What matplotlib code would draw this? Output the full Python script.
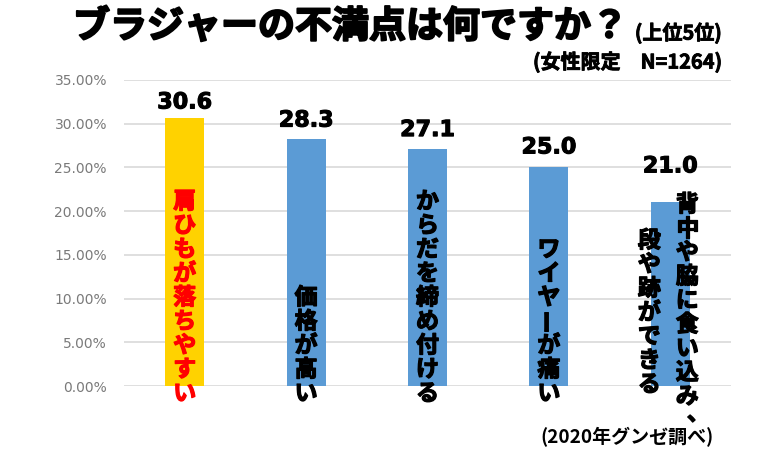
import matplotlib
matplotlib.use("Agg")
import matplotlib.pyplot as plt
import matplotlib.patheffects as pe
from matplotlib.ticker import FuncFormatter

# ---- data ----
categories = ["肩ひもが落ちやすい", "価格が高い", "からだを締め付ける", "ワイヤーが痛い",
              "背中や脇に食い込み、段や跡ができる"]
values = [30.6, 28.3, 27.1, 25.0, 21.0]
value_labels = ["30.6", "28.3", "27.1", "25.0", "21.0"]
# vertical label columns per bar (right-to-left reading order)
label_columns = [
    ["肩ひもが落ちやすい"],
    ["価格が高い"],
    ["からだを締め付ける"],
    ["ワイヤーが痛い"],
    ["背中や脇に食い込み、", "段や跡ができる"],
]
yticks = [0, 5, 10, 15, 20, 25, 30, 35]
title = "ブラジャーの不満点は何ですか？"
subtitle1 = "(上位5位)"
subtitle2 = "(女性限定　N=1264)"
source = "(2020年グンゼ調べ)"

# ---- style ----
W, H, DPI = 780, 450, 100
PX = 72.0 / DPI  # px -> pt
bar_colors = ["#FFD200", "#5B9BD5", "#5B9BD5", "#5B9BD5", "#5B9BD5"]
label_colors = ["#FF0000", "black", "black", "black", "black"]
value_gap_px = [10, 12, 13, 14, 30]
JP = ["Noto Sans CJK JP", "DejaVu Sans"]
# vertical-writing adjustments: rotation and (dx, dy) px shift inside the cell
vert_rot = {"ー": 90}
vert_shift = {"、": (11, 7)}


def heavy(col, w):
    return [pe.withStroke(linewidth=w, foreground=col)]


fig = plt.figure(figsize=(W / DPI, H / DPI), dpi=DPI)
fig.patch.set_facecolor("white")
ax = fig.add_axes([124 / W, 1 - 386 / H, (731 - 124) / W, (386 - 80) / H])
x = list(range(len(categories)))
ax.bar(x, values, width=0.32, color=bar_colors, zorder=2)
ax.set_xlim(-0.5, len(categories) - 0.5)
ax.set_ylim(0, 35)
ax.set_yticks(yticks)
ax.yaxis.set_major_formatter(FuncFormatter(lambda v, p: f"{v:.2f}%"))
ax.tick_params(axis="y", length=0, pad=17 * PX, labelsize=10, labelcolor="#7a7a7a")
ax.set_xticks([])
for s in ax.spines.values():
    s.set_visible(False)
ax.grid(axis="y", color="#D9D9D9", linewidth=1.2, zorder=0)

# value labels
for xi, v, lab, gap in zip(x, values, value_labels, value_gap_px):
    ax.annotate(lab, xy=(xi, v), xytext=(0, gap * PX), textcoords="offset points",
                ha="center", va="baseline", fontsize=16, fontweight="bold",
                family="DejaVu Sans", color="black", path_effects=heavy("black", 0.8))

# vertical labels
pitch = 24  # px per character
fs_v = 23 * PX


def put_char(xi, ch, dx, dy, col):
    sx, sy = vert_shift.get(ch, (0, 0))
    ax.annotate(ch, xy=(xi, 0), xytext=((dx + sx) * PX, (dy + sy) * PX),
                textcoords="offset points", ha="center", va="center",
                fontsize=fs_v, fontweight="bold", family=JP, color=col,
                rotation=vert_rot.get(ch, 0), annotation_clip=False, zorder=3,
                path_effects=heavy(col, 0.9))


for xi, cols, col in zip(x, label_columns, label_colors):
    if len(cols) == 1:
        chars = list(cols[0])
        n = len(chars)
        for j, ch in enumerate(chars):
            put_char(xi, ch, 0, -8 + pitch * (n - 1 - j), col)
    else:
        xshift = [17, -21]
        center = 73  # px above zero line
        for c, txt in enumerate(cols):
            chars = list(txt)
            n = len(chars)
            for j, ch in enumerate(chars):
                put_char(xi, ch, xshift[c], center + pitch * ((n - 1) / 2 - j), col)

# titles
fig.text(73 / W, 1 - 27 / H, title, ha="left", va="center", fontsize=37 * PX,
         fontweight="bold", family=JP, color="black", path_effects=heavy("black", 1.4))
fig.text(722 / W, 1 - 33 / H, subtitle1, ha="right", va="center", fontsize=20 * PX,
         fontweight="bold", family=JP, color="black", path_effects=heavy("black", 0.6))
fig.text(722 / W, 1 - 62 / H, subtitle2, ha="right", va="center", fontsize=20 * PX,
         fontweight="bold", family=JP, color="black", path_effects=heavy("black", 0.6))
fig.text(714 / W, 1 - 437 / H, source, ha="right", va="center", fontsize=19 * PX,
         fontweight="bold", family=JP, color="black")

fig.savefig("out.png", dpi=DPI, facecolor="white")
